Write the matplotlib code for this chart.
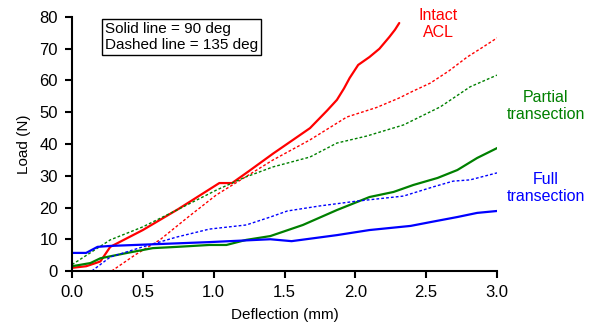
import matplotlib
matplotlib.use("Agg")
import matplotlib.pyplot as plt

plt.rcParams['font.family'] = ['Liberation Sans', 'DejaVu Sans']

# Intact ACL
intact90_x = [0.0, 0.10, 0.20, 0.27, 0.50, 0.75, 1.04, 1.13, 1.25, 1.42, 1.56, 1.68, 1.80, 1.87, 1.92, 1.96, 2.02, 2.10, 2.17, 2.24, 2.28, 2.31]
intact90_y = [1.0, 1.5, 3.0, 7.6, 12.9, 19.5, 27.7, 27.7, 31.5, 37.0, 41.3, 45.0, 50.5, 53.9, 57.5, 60.8, 64.9, 67.4, 70.0, 73.7, 76.0, 78.1]
intact135_x = [0.28, 0.45, 0.62, 0.82, 1.02, 1.22, 1.42, 1.68, 1.94, 2.15, 2.31, 2.40, 2.53, 2.66, 2.79, 2.90, 3.0]
intact135_y = [0.0, 5.2, 9.8, 17.0, 24.0, 29.5, 35.0, 41.3, 48.5, 51.5, 54.5, 56.5, 59.2, 63.0, 67.4, 70.5, 73.4]

# Partial transection
partial90_x = [0.0, 0.13, 0.20, 0.39, 0.57, 0.74, 0.97, 1.09, 1.23, 1.40, 1.63, 1.87, 2.10, 2.27, 2.41, 2.58, 2.72, 2.86, 3.0]
partial90_y = [1.5, 2.5, 4.0, 5.7, 7.2, 7.6, 8.2, 8.2, 9.8, 11.0, 14.5, 19.2, 23.3, 24.9, 27.1, 29.3, 31.8, 35.6, 38.7]
partial135_x = [0.0, 0.27, 0.50, 0.74, 1.02, 1.22, 1.42, 1.68, 1.87, 2.08, 2.34, 2.60, 2.81, 3.0]
partial135_y = [2.0, 9.8, 13.9, 19.2, 25.5, 29.5, 32.8, 35.9, 40.3, 42.5, 46.0, 51.7, 58.0, 61.7]

# Full transection
full90_x = [0.0, 0.10, 0.18, 0.27, 0.62, 0.97, 1.40, 1.55, 1.87, 2.10, 2.39, 2.53, 2.72, 2.86, 3.0]
full90_y = [5.7, 5.7, 7.6, 7.9, 8.5, 9.1, 10.0, 9.4, 11.3, 12.9, 14.2, 15.4, 17.0, 18.3, 18.9]
full135_x = [0.14, 0.27, 0.50, 0.74, 0.97, 1.23, 1.40, 1.52, 1.75, 2.01, 2.34, 2.55, 2.69, 2.81, 3.0]
full135_y = [0.0, 4.4, 7.6, 10.7, 13.2, 14.5, 17.0, 18.9, 20.5, 22.0, 23.6, 26.5, 28.3, 28.7, 30.9]

xticks = [0.0, 0.5, 1.0, 1.5, 2.0, 2.5, 3.0]
yticks = [0, 10, 20, 30, 40, 50, 60, 70, 80]

RED = '#ff0000'
GREEN = '#008000'
BLUE = '#0000ff'

fig = plt.figure(figsize=(5.89, 3.35), dpi=100)
ax = fig.add_axes([72/589, 1-271/335, (497-72)/589, (271-17)/335])

ax.plot(intact90_x, intact90_y, color=RED, lw=1.6, solid_capstyle='round')
ax.plot(intact135_x, intact135_y, color=RED, lw=1.0, linestyle=(0, (2, 1.5)))
ax.plot(partial90_x, partial90_y, color=GREEN, lw=1.6)
ax.plot(partial135_x, partial135_y, color=GREEN, lw=1.0, linestyle=(0, (2, 1.5)))
ax.plot(full90_x, full90_y, color=BLUE, lw=1.6)
ax.plot(full135_x, full135_y, color=BLUE, lw=1.0, linestyle=(0, (2, 1.5)))

ax.set_xlim(0, 3.0)
ax.set_ylim(0, 80)
ax.set_xticks(xticks)
ax.set_xticklabels([f"{t:.1f}" for t in xticks])
ax.set_yticks(yticks)
ax.spines['top'].set_visible(False)
ax.spines['right'].set_visible(False)
ax.spines['left'].set_linewidth(1.5)
ax.spines['bottom'].set_linewidth(1.5)
ax.tick_params(direction='out', length=5, width=1.5, labelsize=12, pad=5)
ax.set_xlabel('Deflection (mm)', fontsize=11, labelpad=6)
ax.set_ylabel('Load (N)', fontsize=11, labelpad=6)

fig.text(105/589, 1-22/335, 'Solid line = 90 deg\nDashed line = 135 deg', fontsize=11,
         va='top', ha='left', linespacing=1.2,
         bbox=dict(boxstyle='square,pad=0.2', fc='white', ec='black', lw=1.0))

fig.text(438/589, 1-24/335, 'Intact\nACL', color=RED, fontsize=11.5,
         ha='center', va='center', linespacing=1.2)
fig.text(546/589, 1-106/335, 'Partial\ntransection', color=GREEN, fontsize=11.5,
         ha='center', va='center', linespacing=1.2)
fig.text(546/589, 1-188/335, 'Full\ntransection', color=BLUE, fontsize=11.5,
         ha='center', va='center', linespacing=1.2)

fig.savefig('out.png', dpi=100)
